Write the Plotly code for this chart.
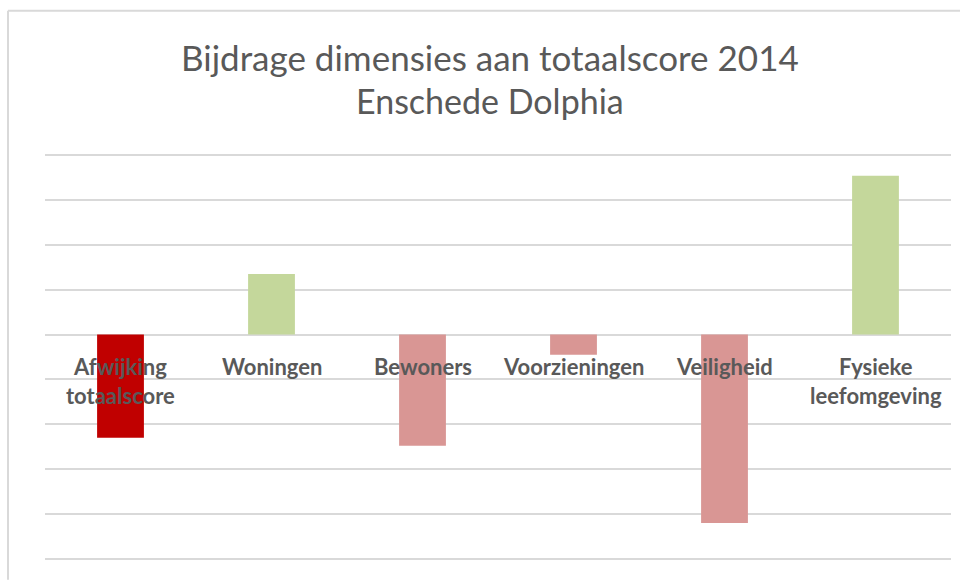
import plotly.graph_objects as go

categories = ["Afwijking<br>totaalscore", "Woningen", "Bewoners", "Voorzieningen", "Veiligheid", "Fysieke<br>leefomgeving"]
values = [-2.3, 1.35, -2.48, -0.45, -4.2, 3.54]
bar_colors = ["#C00000", "#C4D79B", "#D99694", "#D99694", "#D99694", "#C4D79B"]
title_lines = ["Bijdrage dimensies aan totaalscore 2014", "Enschede Dolphia"]

W, H = 960, 580
unit = 44.8
y_top_px, y_bot_px = 155.5, 559.0
pad = 0.05
m_t = y_top_px - pad * unit
m_b = H - (y_bot_px + pad * unit)
m_l, m_r = 45, 9

fig = go.Figure()
fig.add_trace(go.Bar(
    x=list(range(len(categories))),
    y=values,
    marker=dict(color=bar_colors, line=dict(width=0)),
    width=0.31,
    hoverinfo="skip",
))

for i, c in enumerate(categories):
    fig.add_annotation(
        x=i, y=0, xref="x", yref="y", text="<b>" + c + "</b>",
        showarrow=False, yanchor="top", yshift=-16,
        font=dict(family="Lato", size=22, color="#595959"),
        align="center",
    )

plot_h = H - m_t - m_b
plot_w = W - m_l - m_r
def py(pix):
    return (H - m_b - pix) / plot_h
def px(pix):
    return (pix - m_l) / plot_w

fig.add_annotation(x=0.5, y=py(57), xref="paper", yref="paper", text=title_lines[0],
                   showarrow=False, yanchor="middle", xshift=-8,
                   font=dict(family="Lato", size=35, color="#595959"))
fig.add_annotation(x=0.5, y=py(101), xref="paper", yref="paper", text=title_lines[1],
                   showarrow=False, yanchor="middle", xshift=-8,
                   font=dict(family="Lato", size=34, color="#595959"))

fig.update_layout(
    width=W, height=H,
    margin=dict(l=m_l, r=m_r, t=m_t, b=m_b, pad=0),
    paper_bgcolor="white", plot_bgcolor="white",
    showlegend=False,
    xaxis=dict(range=[-0.5, 5.5], showticklabels=False, showgrid=False, zeroline=False,
               showline=False, ticks="", fixedrange=True),
    yaxis=dict(range=[-5 - pad, 4 + pad], dtick=1, tick0=0, showticklabels=False, showgrid=True,
               gridcolor="#D9D9D9", gridwidth=2, zeroline=True, zerolinecolor="#D9D9D9",
               zerolinewidth=2, showline=False, ticks="", fixedrange=True),
)

# chart frame (top and left edges visible)
fig.add_shape(type="line", xref="paper", yref="paper", x0=px(8), x1=px(W), y0=py(11), y1=py(11),
              line=dict(color="#D9D9D9", width=2), layer="below")
fig.add_shape(type="line", xref="paper", yref="paper", x0=px(8), x1=px(8), y0=py(11), y1=py(H),
              line=dict(color="#D9D9D9", width=2), layer="below")

fig.write_html("out.html", config={"displayModeBar": False},
               post_script="document.body.style.margin='0';")
